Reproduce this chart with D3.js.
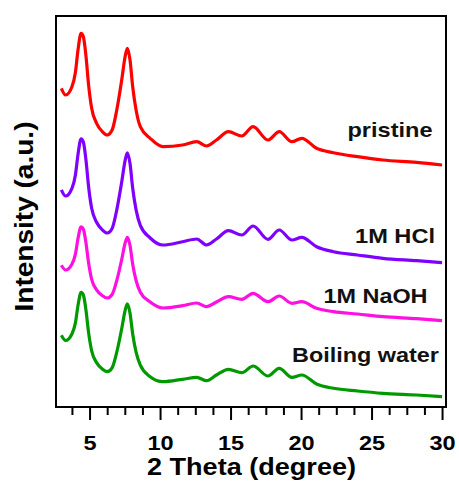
<!DOCTYPE html>
<html>
<head>
<meta charset="utf-8">
<script src="https://cdn.jsdelivr.net/npm/d3@7/dist/d3.min.js"></script>
<style>
  html, body { margin: 0; padding: 0; background: #fff; }
  svg { display: block; font-family: "Liberation Sans", Arial, sans-serif; font-weight: bold; }
</style>
</head>
<body>
<svg id="chart" width="459" height="488"></svg>
<script>
// 2 Theta values (degree)
const twoTheta = [3.0, 3.3, 3.75, 4.0, 4.18, 4.4, 4.56, 4.75, 4.92, 5.15, 5.5, 5.9, 6.25, 6.6, 6.93, 7.28, 7.52, 7.68, 7.87, 8.06,
  8.3, 8.6, 9.3, 10.2, 11.6, 12.6, 13.3, 14.0, 14.85, 15.8, 16.6, 17.65, 18.45, 19.35, 20.05, 21.1, 22.3, 24.0, 25.8, 28.2, 30.0];

// Intensity (a.u., stacked with offsets as plotted)
const pristine = [318.7, 312, 320.3, 335, 357, 373.7, 370.3, 350.3, 323.7, 298.7, 283.7, 275.5, 272, 277, 297, 327, 350.3, 358.7, 347, 320.3,
  297, 280.3, 268.7, 260.3, 262, 265.3, 261, 267, 275.3, 271, 280.3, 267, 275.3, 265.3, 268.7, 258.7, 254.3, 250.3, 247, 244.7, 242];
const hcl = [217.2, 211, 218.7, 232.3, 252.6, 268.1, 264.9, 246.4, 221.8, 198.7, 184.8, 177.2, 174, 178.6, 197.1, 224.9, 246.4, 254.2, 243.4, 218.7,
  197.1, 181.7, 169, 162, 165.3, 168, 162, 168, 176.3, 172, 181, 167.7, 177, 167, 169.7, 160.3, 155.3, 152, 148.7, 146.3, 144.3];
const naoh = [141.7, 137, 142.8, 153.1, 168.5, 180.2, 177.8, 163.8, 145.2, 127.7, 117.2, 111.5, 109, 112.5, 126.5, 147.5, 163.8, 169.7, 161.5, 142.8,
  126.5, 114.8, 105, 99, 101.3, 104, 100.3, 105, 110.3, 107.7, 113.7, 105.3, 111, 103.7, 105.3, 98.7, 95.3, 93, 90.3, 88.3, 86.3];
const water = [71.7, 66.5, 73, 84.4, 101.6, 114.6, 112, 96.4, 75.6, 56.1, 44.4, 38, 35.3, 39.2, 54.8, 78.2, 96.4, 103.2, 93.8, 73,
  54.8, 41.8, 30.3, 25.3, 27.7, 29.7, 26.3, 32, 37.7, 34.3, 41, 31, 38.7, 29.7, 32, 23, 18.7, 16, 13.7, 12, 10.3];

const seriesNames = ["pristine", "1M HCl", "1M NaOH", "Boiling water"];
const seriesColors = ["#ff0000", "#7f00ff", "#ff10e0", "#009a00"];
const seriesValues = [pristine, hcl, naoh, water];
const majorTicks = [5, 10, 15, 20, 25, 30];
const minorTicks = [3.75, 6.25, 7.5, 8.75, 11.25, 12.5, 13.75, 16.25, 17.5, 18.75, 21.25, 22.5, 23.75, 26.25, 27.5, 28.75];

const svg = d3.select("#chart");
const L = 56, R = 446, T = 16, B = 407;

const x = d3.scaleLinear().domain([2.62, 30.28]).range([L, R]);
const y = d3.scaleLinear().domain([0, 391]).range([B, T]);

// label placement
const labelPos = [
  {x: 347.5, y: 136.7, w: 85},
  {x: 355, y: 242.7, w: 80},
  {x: 323.5, y: 302.7, w: 104},
  {x: 292, y: 361.5, w: 147}
];

const line = d3.line()
  .x((d, i) => x(twoTheta[i]))
  .y(d => y(d))
  .curve(d3.curveMonotoneX);

seriesValues.forEach((vals, k) => {
  svg.append("path")
    .datum(vals)
    .attr("d", line)
    .attr("fill", "none")
    .attr("stroke", seriesColors[k])
    .attr("stroke-width", 3.2)
    .attr("stroke-linejoin", "round");
});

// frame
svg.append("rect")
  .attr("x", L).attr("y", T)
  .attr("width", R - L).attr("height", B - T)
  .attr("fill", "none").attr("stroke", "#000").attr("stroke-width", 2);

// minor ticks
const minorAxis = svg.append("g")
  .attr("transform", `translate(0,${B})`)
  .call(d3.axisBottom(x).tickValues(minorTicks).tickSize(8).tickFormat(""));
minorAxis.select(".domain").remove();
minorAxis.selectAll("line").attr("stroke", "#000").attr("stroke-width", 2);

// major ticks
const majorAxis = svg.append("g")
  .attr("transform", `translate(0,${B})`)
  .call(d3.axisBottom(x).tickValues(majorTicks).tickSize(13).tickPadding(15).tickFormat(d3.format("d")));
majorAxis.select(".domain").remove();
majorAxis.selectAll("line").attr("stroke", "#000").attr("stroke-width", 2);
majorAxis.selectAll("text")
  .attr("fill", "#000")
  .style("font-size", "21px")
  .style("font-weight", "bold")
  .style("font-family", '"Liberation Sans", Arial, sans-serif')
  .attr("transform", "scale(1.12,1)");

// axis titles
svg.append("text")
  .attr("x", 251.5).attr("y", 475)
  .attr("text-anchor", "middle")
  .attr("font-size", 23.5)
  .attr("textLength", 209)
  .attr("lengthAdjust", "spacingAndGlyphs")
  .text("2 Theta (degree)");

svg.append("text")
  .attr("transform", "translate(33,216.5) rotate(-90)")
  .attr("text-anchor", "middle")
  .attr("font-size", 25)
  .attr("textLength", 190)
  .attr("lengthAdjust", "spacingAndGlyphs")
  .text("Intensity (a.u.)");

// series labels
seriesNames.forEach((name, k) => {
  svg.append("text")
    .attr("x", labelPos[k].x)
    .attr("y", labelPos[k].y)
    .attr("font-size", 21)
    .attr("textLength", labelPos[k].w)
    .attr("lengthAdjust", "spacingAndGlyphs")
    .attr("fill", "#111")
    .text(name);
});
</script>
</body>
</html>
